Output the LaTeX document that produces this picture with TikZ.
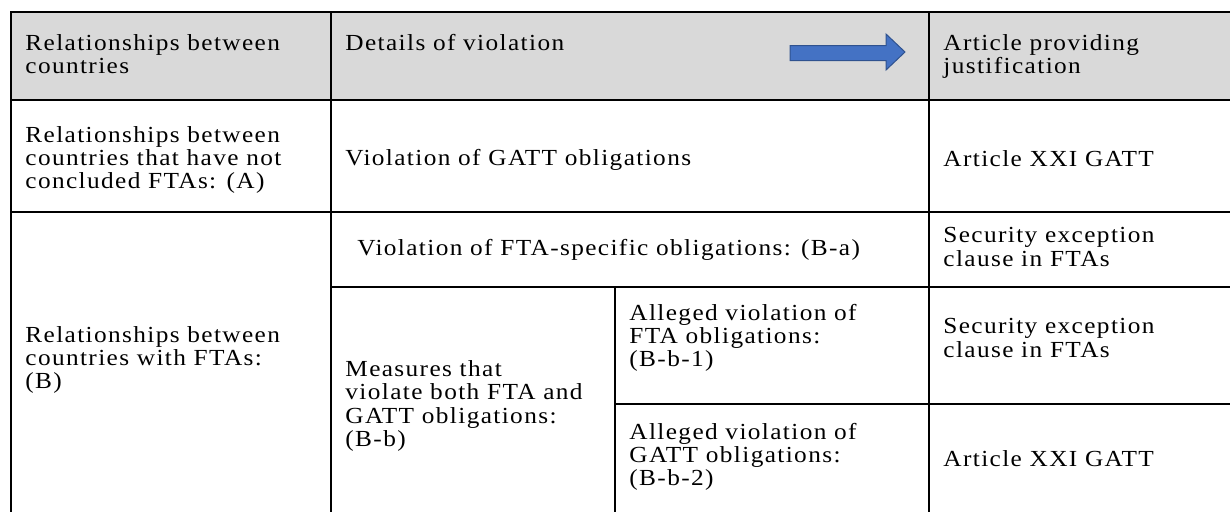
\documentclass[tikz,border=0pt]{standalone}
\usepackage{fontspec}
\setmainfont{Liberation Serif}[FakeStretch=1.1, LetterSpace=6]
\usetikzlibrary{positioning}
\definecolor{headgray}{HTML}{D9D9D9}
\definecolor{arrowblue}{HTML}{4472C4}
\definecolor{arrowline}{HTML}{2F528F}
\tikzset{
 rule/.style={black, line width=1pt},
 cell/.style={inner sep=0, anchor=west, align=left, font=\fontsize{11.5}{11.6}\selectfont},
}
\begin{document}
\begin{tikzpicture}[x=0.5pt, y=-0.5pt]
\clip (0,0) rectangle (1230,511);
\fill[white] (0,0) rectangle (1230,511);
\fill[headgray] (11,12) rectangle (1232,100);
% table rules
\draw[rule] (11,12) rectangle (1232,514);
\foreach \y in {100, 212} {
 \draw[rule] (11,\y) -- (1232,\y);
}
\draw[rule] (331,287) -- (1232,287);
\draw[rule] (615,404) -- (1232,404);
\foreach \x in {331, 929} {
 \draw[rule] (\x,12) -- (\x,514);
}
\draw[rule] (615,287) -- (615,514);
% header
\node[cell, anchor=north west] (hrel) at (25,34) {Relationships between\\countries};
\node[cell, anchor=north west] (hdet) at (345,34) {Details of violation};
\node[cell, anchor=north west] (hart) at (943,34) {Article providing\\justification};
\draw[arrowline, fill=arrowblue, line width=0.5pt]
 (790,45.5) -- (886,45.5) -- (886,34) -- (905,52) -- (886,70) -- (886,60.5) -- (790,60.5) -- cycle;
% row A
\node[cell] (arel) at (25,160) {Relationships between\\countries that have not\\concluded FTAs: (A)};
\node[cell] (aviol) at (345,160) {Violation of GATT obligations};
\node[cell] (aart) at (943,159) {Article XXI GATT};
% row B
\node[cell] (brel) at (25,360) {Relationships between\\countries with FTAs:\\(B)};
\node[cell] (baviol) at (357,250) {Violation of FTA-specific obligations: (B-a)};
\node[cell] (baart) at (943,247) {Security exception\\clause in FTAs};
\node[cell] (bbmeas) at (345,406) {Measures that\\violate both FTA and\\GATT obligations:\\(B-b)};
\node[cell] (bbone) at (629,338) {Alleged violation of\\FTA obligations:\\(B-b-1)};
\node[cell] (bboneart) at (943,338) {Security exception\\clause in FTAs};
\node[cell] (bbtwo) at (629,457) {Alleged violation of\\GATT obligations:\\(B-b-2)};
\node[cell] (bbtwoart) at (943,459) {Article XXI GATT};
\end{tikzpicture}
\end{document}
